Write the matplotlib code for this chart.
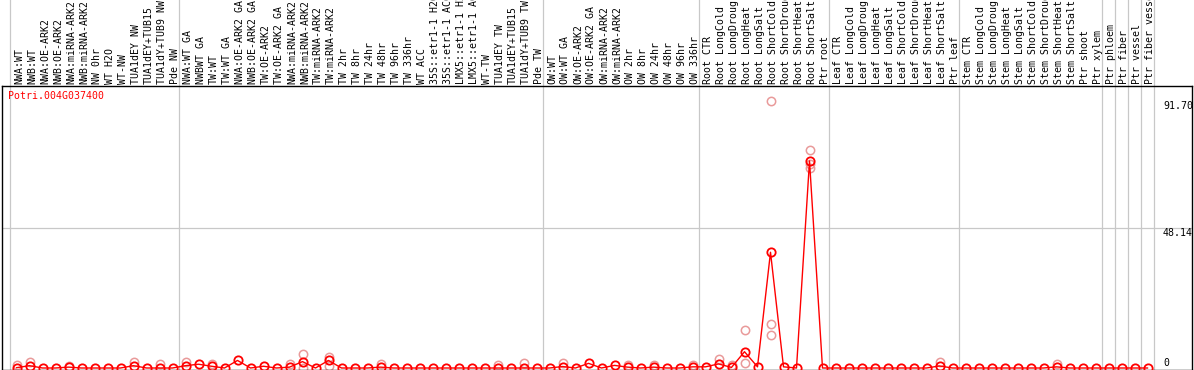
import matplotlib
matplotlib.use("Agg")
import matplotlib.pyplot as plt
import matplotlib.transforms as mtransforms

# ── Data ───────────────────────────────────────────────────────────────

GENE = "Potri.004G037400"

SAMPLES = [
    # NW
    "NWA:WT", "NWB:WT", "NWA:OE-ARK2", "NWB:OE-ARK2", "NWA:miRNA-ARK2",
    "NWB:miRNA-ARK2", "NW 0hr", "WT H2O", "WT-NW", "TUA1dEY NW",
    "TUA1dEY+TUB15", "TUA1dY+TUB9 NW", "Pde NW",
    # TW
    "NWA:WT GA", "NWBWT GA", "TW:WT", "TW:WT GA", "NWA:OE-ARK2 GA",
    "NWB:OE-ARK2 GA", "TW:OE-ARK2", "TW:OE-ARK2 GA", "NWA:miRNA-ARK2",
    "NWB:miRNA-ARK2", "TW:miRNA-ARK2", "TW:miRNA-ARK2", "TW 2hr", "TW 8hr",
    "TW 24hr", "TW 48hr", "TW 96hr", "TW 336hr", "WT ACC",
    "35S::etr1-1 H2O", "35S::etr1-1 ACC", "LMX5::etr1-1 H2O",
    "LMX5::etr1-1 ACC", "WT-TW", "TUA1dEY TW", "TUA1dEY+TUB15",
    "TUA1dY+TUB9 TW", "Pde TW",
    # OW
    "OW:WT", "OW:WT GA", "OW:OE-ARK2", "OW:OE-ARK2 GA", "OW:miRNA-ARK2",
    "OW:miRNA-ARK2", "OW 2hr", "OW 8hr", "OW 24hr", "OW 48hr", "OW 96hr",
    "OW 336hr",
    # Root
    "Root CTR", "Root LongCold", "Root LongDrought", "Root LongHeat",
    "Root LongSalt", "Root ShortCold", "Root ShortDrought", "Root ShortHeat",
    "Root ShortSalt", "Ptr root",
    # Leaf
    "Leaf CTR", "Leaf LongCold", "Leaf LongDrought", "Leaf LongHeat",
    "Leaf LongSalt", "Leaf ShortCold", "Leaf ShortDrought", "Leaf ShortHeat",
    "Leaf ShortSalt", "Ptr leaf",
    # Stem
    "Stem CTR", "Stem LongCold", "Stem LongDrought", "Stem LongHeat",
    "Stem LongSalt", "Stem ShortCold", "Stem ShortDrought", "Stem ShortHeat",
    "Stem ShortSalt", "Ptr shoot", "Ptr xylem",
    # tissues
    "Ptr phloem", "Ptr fiber", "Ptr vessel", "Ptr fiber vessel",
]

MEANS = [
    # NW
    0.1, 0.8, 0.0, 0.0, 0.3, 0.0, 0.0, 0.0, 0.0, 0.8, 0.0, 0.0, 0.0,
    # TW
    0.8, 1.3, 0.6, 0.0, 2.6, 0.0, 0.6, 0.0, 0.3, 2.2, 0.0, 2.6, 0.0,
    0.0, 0.0, 0.3, 0.0, 0.0, 0.0, 0.0, 0.0, 0.0, 0.0, 0.0, 0.0, 0.0,
    0.0, 0.0,
    # OW
    0.0, 0.5, 0.0, 1.6, 0.0, 0.9, 0.3, 0.0, 0.3, 0.0, 0.0, 0.4,
    # Root
    0.4, 1.4, 0.2, 5.6, 0.4, 39.8, 0.4, 0.0, 71.2, 0.0,
    # Leaf
    0.0, 0.0, 0.0, 0.0, 0.0, 0.0, 0.0, 0.0, 0.7, 0.0,
    # Stem
    0.0, 0.0, 0.0, 0.0, 0.0, 0.0, 0.0, 0.4, 0.0, 0.0, 0.0,
    # tissues
    0.0, 0.0, 0.0, 0.0,
]

# replicate points that stand apart from the means
REP_IDX = [0, 1, 4, 9, 11, 13, 15, 21, 22, 22, 24, 24, 28, 37, 39, 42, 47,
           49, 52, 54, 55, 56, 56, 58, 58, 58, 61, 61, 61, 71, 80]
REP_VALS = [1.0, 2.0, 0.8, 2.2, 1.5, 2.0, 1.3, 1.5, 4.9, 0.0, 3.8, 0.8, 1.3,
            0.9, 1.8, 1.6, 1.1, 1.1, 1.0, 3.2, 1.0, 13.1, 1.8, 91.7, 15.0,
            11.2, 75.0, 70.0, 68.7, 2.0, 1.4]

SEPARATORS = [-0.5, 12.5, 40.5, 52.5, 62.5, 72.5, 83.5, 84.5, 85.5, 86.5, 87.5]
Y_TICKS = [0, 48.14, 91.70]
Y_TICK_LABELS = ["0", "48.14", "91.70"]

# ── Style ──────────────────────────────────────────────────────────────

W, H = 1194, 370
RED = "#ff0000"
PINK = "#e99a9a"
GRID = "#c8c8c8"
MONO = "DejaVu Sans Mono"

px_per_unit = 2.908
zero_px = 368.0
ax_top_px, ax_bot_px = 86.0, 369.5
ax_left_px, ax_right_px = 2.0, 1192.0
col0_px, col_w = 16.5, 13.0

fig = plt.figure(figsize=(W / 100, H / 100), dpi=100)
ax = fig.add_axes([ax_left_px / W, (H - ax_bot_px) / H,
                   (ax_right_px - ax_left_px) / W, (ax_bot_px - ax_top_px) / H])

ax.set_xlim((ax_left_px - col0_px) / col_w, (ax_right_px - col0_px) / col_w)
ax.set_ylim(-(ax_bot_px - zero_px) / px_per_unit, (zero_px - ax_top_px) / px_per_unit)

ax_h_px = ax_bot_px - ax_top_px
for xs in SEPARATORS:
    ax.axvline(xs, ymin=0, ymax=1 + ax_top_px / ax_h_px, color=GRID,
               linewidth=0.9, clip_on=False, zorder=1)
ax.axhline(48.14, color=GRID, linewidth=0.9, zorder=1)

xs = list(range(len(MEANS)))
ax.plot(REP_IDX, REP_VALS, linestyle="none", marker="o", markersize=6.0,
        markerfacecolor="none", markeredgecolor=PINK, markeredgewidth=1.1, zorder=2)
ax.plot(xs, MEANS, color=RED, linewidth=1.0, marker="o", markersize=6.0,
        markerfacecolor="none", markeredgecolor=RED, markeredgewidth=1.3, zorder=3)

# sample labels above the plot
trans = mtransforms.blended_transform_factory(ax.transData, ax.transAxes)
for i, name in enumerate(SAMPLES):
    ax.text(i + 0.2, 1 + 2.0 / ax_h_px, name, transform=trans, rotation=90,
            ha="center", va="bottom", fontsize=7.1, family=MONO, color="black",
            clip_on=False)

# y-axis values on the right side
ytrans = mtransforms.blended_transform_factory(ax.transAxes, ax.transData)
for val, lab in zip(Y_TICKS, Y_TICK_LABELS):
    ax.text((1163 - ax_left_px) / (ax_right_px - ax_left_px), val, lab,
            transform=ytrans, ha="left", va="bottom" if val == 0 else "top",
            fontsize=7.1, family=MONO, color="black")

ax.text((8 - ax_left_px) / (ax_right_px - ax_left_px), 1 - 5 / ax_h_px, GENE,
        transform=ax.transAxes, ha="left", va="top", fontsize=7.1,
        family=MONO, color=RED)

ax.set_xticks([])
ax.set_yticks([])
for sp in ax.spines.values():
    sp.set_color("black")
    sp.set_linewidth(1.0)

fig.savefig("out.png", dpi=100)
